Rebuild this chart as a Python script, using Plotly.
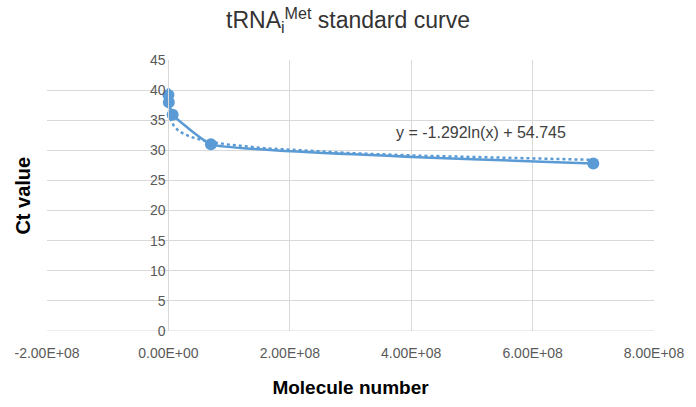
import numpy as np
import plotly.graph_objects as go

# Standard-curve data: molecule number vs. measured Ct
molecules = [7e4, 7e5, 7e6, 7e7, 7e8]
ct_values = [39.2, 38.0, 35.9, 31.0, 27.8]

# Logarithmic trendline coefficients: y = a*ln(x) + b
trend_a = -1.292
trend_b = 54.745

x_tickvals = [-2e8, 0, 2e8, 4e8, 6e8, 8e8]
x_ticktext = ["-2.00E+08", "0.00E+00", "2.00E+08", "4.00E+08", "6.00E+08", "8.00E+08"]
y_tickvals = [0, 5, 10, 15, 20, 25, 30, 35, 40, 45]

BLUE = "#5B9BD5"
GRID = "#D9D9D9"
FONT = "Liberation Sans, Arial, sans-serif"

# Sample the trendline densely over the data range
tx = np.unique(np.concatenate([
    np.geomspace(min(molecules), max(molecules), 200),
    np.linspace(min(molecules), max(molecules), 400),
]))
ty = trend_a * np.log(tx) + trend_b

fig = go.Figure()
fig.add_trace(go.Scatter(
    x=molecules, y=ct_values, mode="lines+markers",
    line=dict(color=BLUE, width=2.5, shape="spline", smoothing=0.3),
    marker=dict(color=BLUE, size=12),
    showlegend=False, hoverinfo="x+y",
))
fig.add_trace(go.Scatter(
    x=tx, y=ty, mode="lines",
    line=dict(color=BLUE, width=2.5, dash="dot"),
    showlegend=False, hoverinfo="skip",
))

x_range = [-2e8, 8e8]
zero_pos = (0 - x_range[0]) / (x_range[1] - x_range[0])

fig.update_layout(
    width=696, height=407,
    margin=dict(l=47, r=39, t=60, b=76),
    paper_bgcolor="white", plot_bgcolor="white",
    font=dict(family=FONT, color="#595959", size=14),
    title=dict(
        text="tRNA<sub>i</sub><sup>Met</sup> standard curve",
        x=0.5, xref="container", xanchor="center",
        y=0.95, yref="container", yanchor="middle",
        font=dict(family=FONT, size=23, color="#333333"),
    ),
    xaxis=dict(
        range=x_range, tickvals=x_tickvals, ticktext=x_ticktext,
        showgrid=True, gridcolor=GRID, gridwidth=1,
        zeroline=False, showline=False, ticks="",
        ticklabelstandoff=12,
        tickfont=dict(size=14, color="#595959"),
        title=dict(text="<b>Molecule number</b>", standoff=20,
                   font=dict(family=FONT, size=19, color="#000000")),
    ),
    yaxis=dict(
        range=[0, 45], tickvals=y_tickvals,
        showgrid=True, gridcolor=GRID, gridwidth=1,
        zeroline=False, showline=True, linecolor=GRID, linewidth=1,
        anchor="free", position=zero_pos, ticks="",
        tickfont=dict(size=14, color="#595959"),
    ),
    shapes=[
        dict(type="line", xref="paper", yref="y", x0=0, x1=1, y0=0, y1=0,
             line=dict(color=GRID, width=1), layer="below"),
    ],
    annotations=[
        dict(text="<b>Ct value</b>", xref="paper", yref="paper",
             x=-0.041, y=0.5, xanchor="center", yanchor="middle",
             textangle=-90, showarrow=False,
             font=dict(family=FONT, size=20, color="#000000")),
        dict(text="y = -1.292ln(x) + 54.745", xref="x", yref="y",
             x=5.15e8, y=32.9, xanchor="center", yanchor="middle",
             showarrow=False,
             font=dict(family=FONT, size=16, color="#404040")),
    ],
)

fig.write_html("out.html")
